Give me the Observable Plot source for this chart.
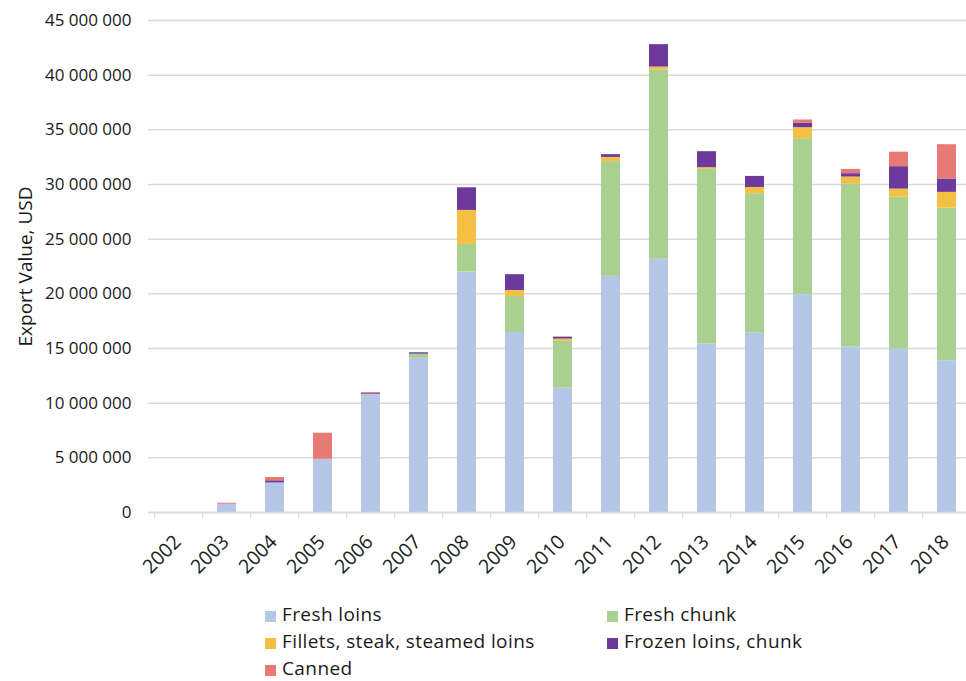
<!DOCTYPE html>
<html>
<head>
<meta charset="utf-8">
<script src="https://cdn.jsdelivr.net/npm/d3@7"></script>
<script src="https://cdn.jsdelivr.net/npm/@observablehq/plot@0.6"></script>
<style>
  html, body { margin: 0; padding: 0; background: #fff; }
  #wrap { position: relative; width: 966px; height: 681px; font-family: "Open Sans", Lato, sans-serif; color: #1a1a1a; }
  #legend { position: absolute; left: 0; top: 0; width: 966px; height: 681px; pointer-events: none; }
  .item { position: absolute; display: flex; align-items: center; font-size: 19px; letter-spacing: 0.4px; line-height: 20px; white-space: nowrap; }
  .sw { width: 11px; height: 11px; margin-right: 6px; position: relative; top: 2px; }
</style>
</head>
<body>
<div id="wrap"></div>
<script>
// Export value (USD, millions) by product type, 2002–2018
const years = ["2002","2003","2004","2005","2006","2007","2008","2009","2010","2011","2012","2013","2014","2015","2016","2017","2018"];
const seriesNames = ["Fresh loins", "Fresh chunk", "Fillets, steak, steamed loins", "Frozen loins, chunk", "Canned"];
const seriesColors = ["#b4c7e7", "#a9d08e", "#f3c044", "#6b3a9c", "#e87a76"];

const freshLoins = [0, 0.75, 2.70, 4.87, 10.80, 14.10, 22.00, 16.47, 11.37, 21.60, 23.17, 15.40, 16.44, 19.92, 15.16, 14.94, 13.88];
const freshChunk = [0, 0, 0, 0, 0, 0.38, 2.52, 3.29, 4.28, 10.49, 17.30, 15.98, 12.72, 14.27, 14.91, 13.91, 13.96];
const fillets    = [0, 0, 0, 0, 0, 0, 3.11, 0.55, 0.21, 0.39, 0.27, 0.16, 0.57, 1.01, 0.61, 0.73, 1.44];
const frozen     = [0, 0, 0.20, 0, 0.07, 0.13, 2.07, 1.44, 0.18, 0.25, 2.05, 1.46, 1.01, 0.39, 0.31, 2.05, 1.22];
const canned     = [0, 0.10, 0.30, 2.38, 0.10, 0, 0, 0, 0, 0, 0, 0, 0, 0.31, 0.39, 1.33, 3.14];

const yTicks = [0, 5e6, 10e6, 15e6, 20e6, 25e6, 30e6, 35e6, 40e6, 45e6];

const seriesValues = [freshLoins, freshChunk, fillets, frozen, canned];
const rows = [];
seriesNames.forEach((name, s) => {
  years.forEach((year, i) => {
    rows.push({year, series: name, value: seriesValues[s][i] * 1e6});
  });
});

const fmt = v => d3.format(",")(v).replace(/,/g, " ");
const W = 966, H = 596;
const step = 826 / years.length;
const font = "'Open Sans', Lato, sans-serif";

const chart = Plot.plot({
  width: W,
  height: H,
  marginTop: 20,
  marginLeft: 148,
  marginRight: 0,
  marginBottom: 84,
  style: {fontFamily: font, fontSize: "17px", color: "#1a1a1a", background: "#fff"},
  x: {domain: years, range: [150, 976], paddingInner: 0.6, paddingOuter: 0.3, label: null, axis: null},
  y: {domain: [0, 45e6], label: null},
  color: {domain: seriesNames, range: seriesColors},
  marks: [
    Plot.gridY(yTicks, {stroke: "#d9d9d9", strokeOpacity: 1, strokeWidth: 1.5}),
    Plot.axisY(yTicks, {tickSize: 0, tickPadding: 17, tickFormat: fmt, fontSize: 17, label: null}),
    Plot.text(["Export Value, USD"], {frameAnchor: "left", textAnchor: "middle", dx: -123, rotate: -90, fontSize: 19}),
    Plot.barY(rows, Plot.stackY({order: null}, {x: "year", y: "value", fill: "series"})),
    Plot.ruleY([0], {stroke: "#d9d9d9", strokeWidth: 1.5}),
    Plot.ruleX(years, {x: d => d, y1: 0, y2: 0, insetBottom: -6, dx: -step / 2, stroke: "#d9d9d9", strokeWidth: 1.5}),
    // rotated year labels, centred below and left of each band
    Plot.text(years, {x: d => d, y: () => 0, text: d => d, rotate: -45, textAnchor: "middle", lineAnchor: "middle", dx: -17, dy: 42, fontSize: 19.5})
  ]
});

const wrap = document.getElementById("wrap");
wrap.appendChild(chart);

// Two-column legend placed under the chart
const legend = document.createElement("div");
legend.id = "legend";
const cols = [265, 607];
const rowTops = [604, 631, 658];
seriesNames.forEach((name, i) => {
  const el = document.createElement("div");
  el.className = "item";
  el.style.left = cols[i % 2] + "px";
  el.style.top = rowTops[Math.floor(i / 2)] + "px";
  el.innerHTML = `<span class="sw" style="background:${seriesColors[i]}"></span><span>${name}</span>`;
  legend.appendChild(el);
});
wrap.appendChild(legend);
</script>
</body>
</html>
